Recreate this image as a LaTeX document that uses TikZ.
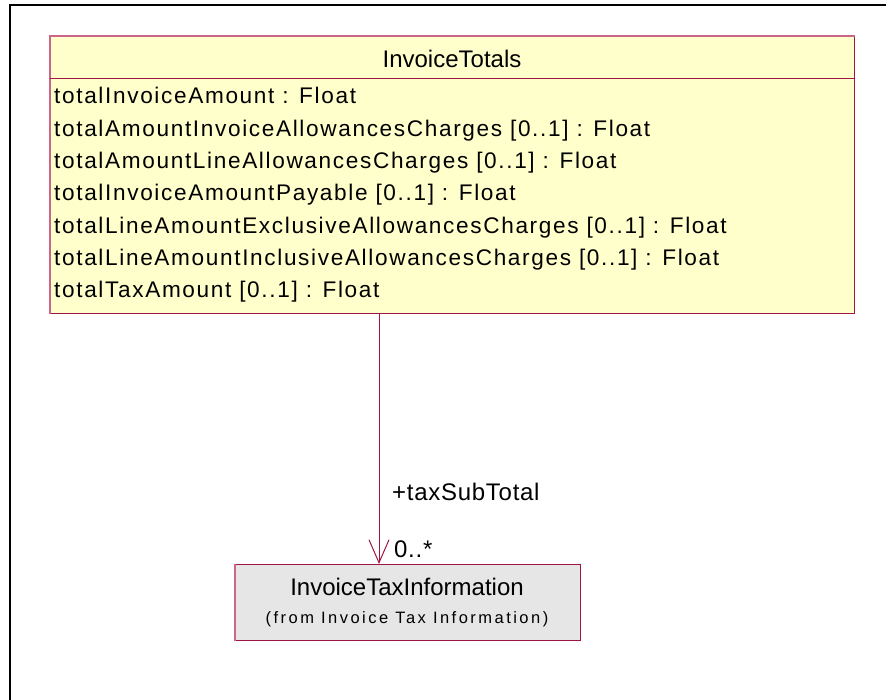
\documentclass[tikz,border=0pt]{standalone}
\usepackage{fontspec}
\setmainfont{Liberation Sans}
\newfontfamily\attrfont[LetterSpace=7.3]{Liberation Sans}
\newfontfamily\fromfont[LetterSpace=15]{Liberation Sans}
\newfontfamily\lblfont[LetterSpace=3]{Liberation Sans}
\usetikzlibrary{arrows.meta}
\definecolor{umlfill}{HTML}{FFFFCC}
\definecolor{umlline}{HTML}{9E1446}
\definecolor{umllight}{HTML}{CC6688}
\definecolor{pkgfill}{HTML}{E6E6E6}
\tikzset{
  classbox/.style={draw=umlline, line width=1.3pt, anchor=north west, inner sep=0pt},
  attr/.style={anchor=base west, inner sep=0pt, font=\attrfont\fontsize{22.6}{28}\selectfont},
  title/.style={anchor=base, inner sep=0pt, font=\fontsize{24}{28}\selectfont},
  fromtxt/.style={anchor=base, inner sep=0pt, font=\fromfont\fontsize{16.5}{20}\selectfont},
  rolelbl/.style={anchor=base west, inner sep=0pt, font=\lblfont\fontsize{24}{28}\selectfont},
  assoc/.style={draw=umlline, line width=1pt, -{Straight Barb[length=23pt, width=20pt, line width=1pt]}}
}
\begin{document}
\begin{tikzpicture}[x=1pt,y=-1pt]
\useasboundingbox (0,0) rectangle (886,700);
% outer frame
\draw[line width=2pt] (10,700) -- (10,5) -- (886,5);

% class InvoiceTotals
\node[classbox, fill=umlfill, minimum width=804pt, minimum height=277pt] (tot) at (50,36) {};
\draw[umllight, line width=1.3pt] (tot.south west) -- (tot.north west) -- (tot.north east);
\coordinate (sepy) at (0,79);
\draw[umlline, line width=1pt] (tot.west |- sepy) -- (tot.east |- sepy);
\node[title] (hdr) at (452,68) {InvoiceTotals};
\node[attr] (a1) at (54,104) {totalInvoiceAmount : Float};
\node[attr] (a2) at (54,136.3) {totalAmountInvoiceAllowancesCharges [0..1] : Float};
\node[attr] (a3) at (54,168.6) {totalAmountLineAllowancesCharges [0..1] : Float};
\node[attr] (a4) at (54,200.9) {totalInvoiceAmountPayable [0..1] : Float};
\node[attr] (a5) at (54,233.2) {totalLineAmountExclusiveAllowancesCharges [0..1] : Float};
\node[attr] (a6) at (54,265.5) {totalLineAmountInclusiveAllowancesCharges [0..1] : Float};
\node[attr] (a7) at (54,297.8) {totalTaxAmount [0..1] : Float};

% class InvoiceTaxInformation
\node[classbox, fill=pkgfill, minimum width=345pt, minimum height=76pt] (tax) at (235,564) {};
\draw[umllight, line width=1.3pt] (tax.south west) -- (tax.north west);
\node[title] (taxname) at (407,595) {InvoiceTaxInformation};
\node[fromtxt] (taxfrom) at (407,623) {(from Invoice Tax Information)};

% association
\coordinate (cx) at (379,0);
\draw[assoc] (tot.south -| cx) -- (tax.north -| cx);
\node[rolelbl] (role) at (392,500) {+taxSubTotal};
\node[rolelbl] (mult) at (394,557) {0..*};
\end{tikzpicture}
\end{document}
